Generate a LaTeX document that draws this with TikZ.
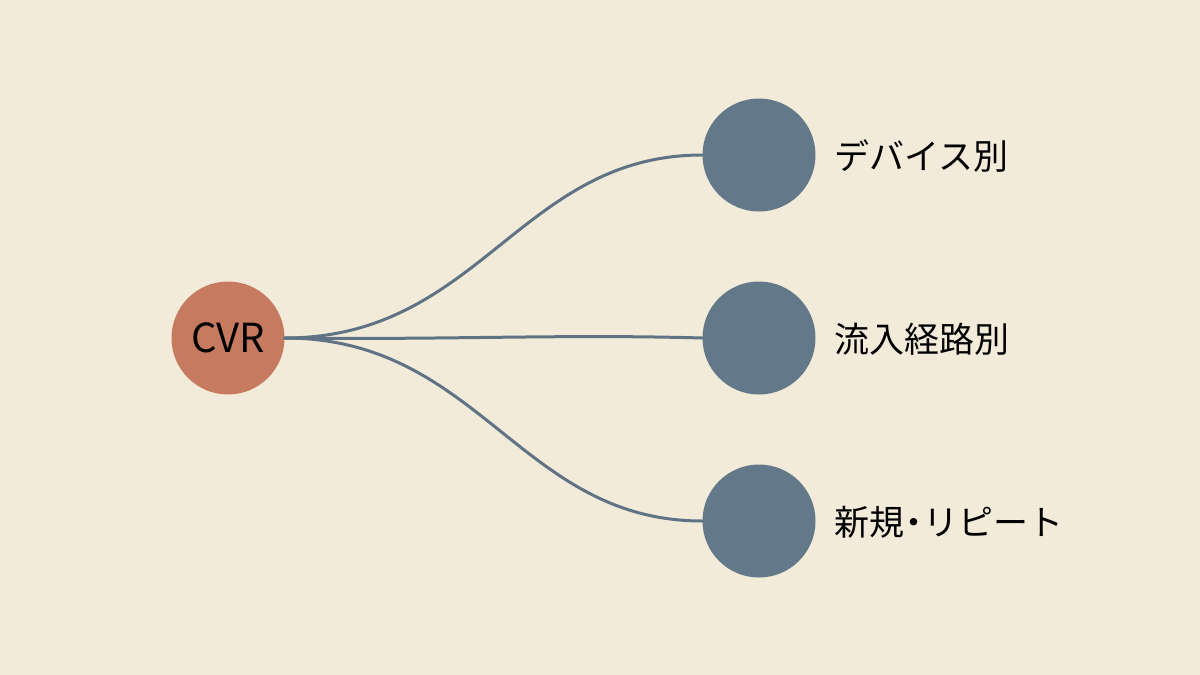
\documentclass[tikz,border=0pt]{standalone}
\usepackage{fontspec}
\setmainfont{Noto Sans CJK JP}
\definecolor{bg}{HTML}{F2EBDA}
\definecolor{cvr}{HTML}{C67A5F}
\definecolor{blu}{HTML}{637889}
\definecolor{ln}{HTML}{5F7384}
\begin{document}
\begin{tikzpicture}[x=1pt,y=-1pt,
  rootc/.style={circle,fill=cvr,minimum size=113pt,inner sep=0pt,font=\fontsize{40}{44}\selectfont},
  leafc/.style={circle,fill=blu,minimum size=113pt,inner sep=0pt},
  lab/.style={anchor=west,inner sep=0pt,font=\fontsize{35}{40}\selectfont},
  conn/.style={draw=ln,line width=3pt,line cap=round}]
\fill[bg] (0,0) rectangle (1200,675);
\useasboundingbox (0,0) rectangle (1200,675);
\node[rootc] (cvr) at (228,338) {CVR};
\node[leafc] (a) at (759,155) {};
\node[leafc] (b) at (759,338) {};
\node[leafc] (c) at (759,521) {};
\node[lab] (la) at (834,156) {デバイス別};
\node[lab] (lb) at (834,339) {流入経路別};
\node[lab] (lc) at (834,522) {新規\hspace{-8pt}・\hspace{-8pt}リピート};
\draw[conn] (cvr.east) .. controls (480,338) and (520,155) .. (a.west);
\draw[conn] (cvr.east) .. controls (450,340) and (560,334) .. (b.west);
\draw[conn] (cvr.east) .. controls (480,338) and (520,521) .. (c.west);
\end{tikzpicture}
\end{document}
